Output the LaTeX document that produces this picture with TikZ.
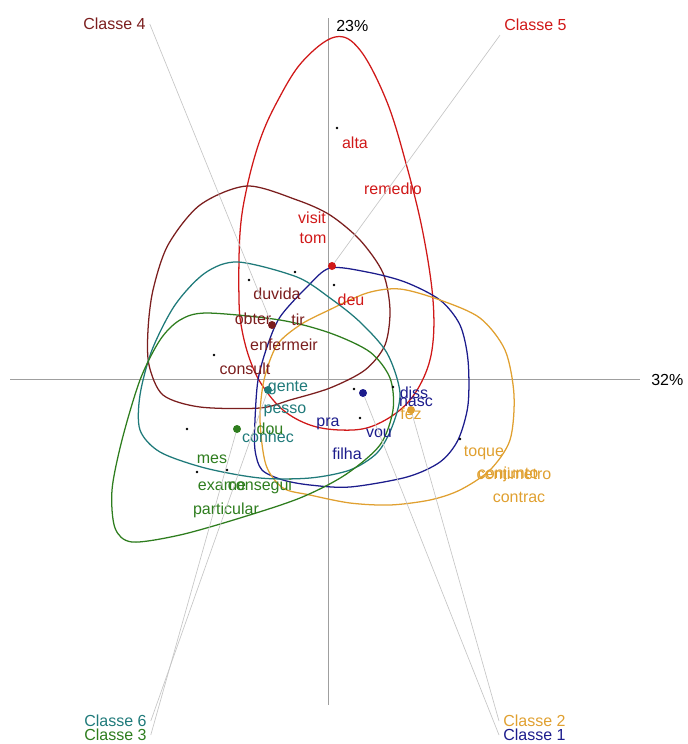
\documentclass[tikz,border=0pt]{standalone}
\usepackage{fontspec}
\setmainfont{Liberation Sans}
\definecolor{cone}{HTML}{1C1C8C}
\definecolor{ctwo}{HTML}{E0A030}
\definecolor{cthree}{HTML}{2E7D1E}
\definecolor{cfour}{HTML}{7B1E1E}
\definecolor{cfive}{HTML}{D01818}
\definecolor{csix}{HTML}{1F7A7A}
\begin{document}
\begin{tikzpicture}[x=0.75pt, y=-0.75pt,
	every node/.style={font=\fontsize{12}{14}\selectfont, inner sep=0pt},
	axis/.style={gray!75, line width=0.6pt},
	ptr/.style={gray!45, line width=0.5pt},
	hull/.style={line width=0.95pt},
	cent/.style={circle, minimum size=6pt, inner sep=0pt},
	pt/.style={circle, fill=black, minimum size=2pt, inner sep=0pt},
	clab/.style={inner sep=3pt}]
	\useasboundingbox (0,0) rectangle (688,744);
	
	% 1. 坐标轴 (因子 1 与因子 2)
	\coordinate (xl) at (10,379);
	\coordinate (xr) at (640,379);
	\coordinate (yt) at (328,18);
	\coordinate (yb) at (328,705);
	\draw[axis] (xl) -- (xr);
	\draw[axis] (yt) -- (yb);
	\node[anchor=west] (xpct) at (651,380) {32\%};
	\node[anchor=south west] (ypct) at (336,32) {23\%};
	
	% 2. 各类的包络曲线
	\draw[hull, cfive] plot[smooth cycle, tension=0.6] coordinates {(335,37) (360,50) (387,102) (407,167) (423,233) (433,300) (432,350) (420,385) (400,410) (370,427) (340,430) (310,425) (283,410) (262,385) (250,360) (242,330) (239,300) (240,233) (247,187) (260,140) (277,102) (302,62)};
	\draw[hull, cfour] plot[smooth cycle] coordinates {(247,186) (297,200) (330,215) (360,240) (383,273) (390,310) (385,345) (365,370) (330,388) (290,400) (260,408) (200,407) (163,395) (149,365) (148,330) (153,290) (168,245) (200,205)};
	\draw[hull, cone] plot[smooth cycle] coordinates {(330,268) (367,272) (405,282) (440,300) (460,325) (468,360) (468,405) (458,440) (440,462) (407,477) (350,487) (310,485) (283,480) (262,470) (255,450) (255,420) (258,380) (267,347) (280,317) (307,287)};
	\draw[hull, ctwo] plot[smooth cycle] coordinates {(440,300) (480,318) (505,350) (514,395) (510,440) (490,470) (460,490) (430,500) (390,505) (350,503) (310,495) (283,488) (266,465) (260,420) (264,380) (277,345) (300,325) (327,311) (367,293) (400,289)};
	\draw[hull, csix] plot[smooth cycle] coordinates {(238,262) (297,277) (330,298) (360,322) (387,353) (400,393) (392,427) (377,453) (350,470) (310,478) (260,478) (205,468) (160,452) (140,430) (140,395) (152,350) (175,305) (205,273)};
	\draw[hull, cthree] plot[smooth cycle] coordinates {(207,313) (280,320) (330,333) (370,352) (390,378) (393,410) (380,445) (345,475) (300,498) (240,518) (180,535) (132,542) (115,528) (112,490) (122,440) (140,380) (160,340) (180,320)};
	
	% 3. 词语点
	\foreach \p in {(337,128), (295,272), (249,280), (334,285), (214,355), (187,429), (227,470), (197,472), (354,389), (393,387), (360,418), (460,439)}
		\node[pt] at \p {};
	
	% 4. 词语标签
	\begin{scope}[cfive]
		\node (alta) at (355,143) {alta};
		\node (remedio) at (393,189) {remedio};
		\node (visit) at (312,218) {visit};
		\node (tom) at (313,238) {tom};
		\node (deu) at (351,300) {deu};
	\end{scope}
	\begin{scope}[cfour]
		\node (duvida) at (277,294) {duvida};
		\node (obter) at (253,319) {obter};
		\node (tir) at (298,320) {tir};
		\node (enfermeir) at (284,345) {enfermeir};
		\node (consult) at (245,369) {consult};
	\end{scope}
	\begin{scope}[csix]
		\node (gente) at (288,388) {gente};
		\node (pesso) at (285,411) {pesso};
		\node (conhec) at (268,437) {conhec};
	\end{scope}
	\begin{scope}[cthree]
		\node (dou) at (270,429) {dou};
		\node (mes) at (212,459) {mes};
		\node (exame) at (222,486) {exame};
		\node (consegui) at (260,486) {consegui};
		\node (particular) at (226,510) {particular};
	\end{scope}
	\begin{scope}[cone]
		\node (pra) at (328,424) {pra};
		\node (vou) at (379,433) {vou};
		\node (filha) at (347,454) {filha};
		\node (diss) at (414,393) {diss};
		\node (nasc) at (416,402) {nasc};
	\end{scope}
	\begin{scope}[ctwo]
		\node (fez) at (411,414) {fez};
		\node (toque) at (484,453) {toque};
		\node (centimetro) at (514,474) {centimetro};
		\node (conjunto) at (508,474) {conjunto};
		\node (contrac) at (519,497) {contrac};
	\end{scope}
	
	% 5. 类中心与类名 (灰色引线)
	\node[cent, fill=cfour] (g4) at (272,325) {};
	\node[cent, fill=cfive] (g5) at (332,266) {};
	\node[cent, fill=csix] (g6) at (268,390) {};
	\node[cent, fill=cthree] (g3) at (237,429) {};
	\node[cent, fill=cone] (g1) at (363,393) {};
	\node[cent, fill=ctwo] (g2) at (411,410) {};
	
	\node[clab, text=cfour, anchor=west] (l4) at (79,24) {Classe 4};
	\node[clab, text=cfive, anchor=west] (l5) at (500,25) {Classe 5};
	\node[clab, text=csix, anchor=west] (l6) at (80,721) {Classe 6};
	\node[clab, text=cthree, anchor=west] (l3) at (80,735) {Classe 3};
	\node[clab, text=ctwo, anchor=west] (l2) at (499,721) {Classe 2};
	\node[clab, text=cone, anchor=west] (l1) at (499,735) {Classe 1};
	
	\draw[ptr] (g4) -- (l4.east);
	\draw[ptr] (g5) -- (l5.south west);
	\draw[ptr] (g6) -- (l6.east);
	\draw[ptr] (g3) -- (l3.east);
	\draw[ptr] (g2) -- (l2.west);
	\draw[ptr] (g1) -- (l1.west);
\end{tikzpicture}
\end{document}
